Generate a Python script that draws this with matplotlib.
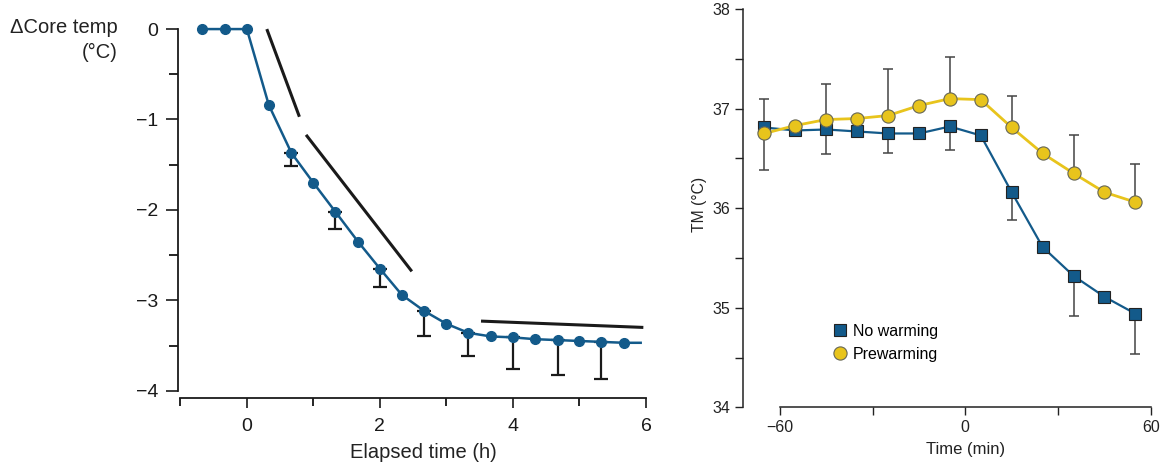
import matplotlib
matplotlib.use("Agg")
import matplotlib.pyplot as plt
from matplotlib.lines import Line2D
import numpy as np

plt.rcParams['font.family'] = ['Liberation Sans', 'DejaVu Sans']
plt.rcParams['axes.unicode_minus'] = True

# left panel: change in core temperature after induction
elapsed_h = [-0.67, -0.33, 0.0, 0.33, 0.67, 1.0, 1.33, 1.67, 2.0, 2.33, 2.67,
             3.0, 3.33, 3.67, 4.0, 4.33, 4.67, 5.0, 5.33, 5.67]
delta_core = [0.0, 0.0, 0.0, -0.84, -1.37, -1.70, -2.02, -2.35, -2.65, -2.94, -3.12,
              -3.26, -3.36, -3.40, -3.41, -3.43, -3.44, -3.45, -3.46, -3.47]
line_end_h = 5.92
line_end_val = -3.47

sd_h = [0.67, 1.33, 2.0, 2.67, 3.33, 4.0, 4.67, 5.33]
sd_val = [0.15, 0.19, 0.20, 0.27, 0.26, 0.35, 0.39, 0.41]

# the three phases of the decline (redistribution, loss, plateau)
phase_x = [(0.30, 0.79), (0.89, 2.48), (3.52, 5.96)]
phase_y = [(0.0, -0.97), (-1.17, -2.68), (-3.23, -3.30)]

# right panel: TM with / without prewarming
time_min = [-65, -55, -45, -35, -25, -15, -5, 5, 15, 25, 35, 45, 55]
no_warming = [36.81, 36.78, 36.79, 36.77, 36.75, 36.75, 36.82, 36.73,
              36.16, 35.61, 35.32, 35.11, 34.94]
prewarming = [36.75, 36.83, 36.89, 36.90, 36.93, 37.03, 37.10, 37.09,
              36.81, 36.55, 36.35, 36.16, 36.06]
err_time = [-65, -45, -25, -5, 15, 35, 55]
no_warming_sd = [0.43, 0.25, 0.20, 0.24, 0.28, 0.40, 0.40]
prewarming_sd = [0.35, 0.36, 0.47, 0.42, 0.32, 0.38, 0.38]

blue = '#135a8a'
yellow = '#e8c41c'
txt = '#222222'

fig = plt.figure(figsize=(11.65, 4.67), dpi=100)

# ---- left
ax1 = fig.add_axes([0.1525, 0.1471, 0.414, 0.810])
ax1.plot(elapsed_h + [line_end_h], delta_core + [line_end_val], color=blue, lw=1.8, zorder=3)
ax1.plot(elapsed_h, delta_core, 'o', color=blue, ms=7, zorder=4)
sd_mean = [delta_core[elapsed_h.index(h)] for h in sd_h]
ax1.errorbar(sd_h, sd_mean, yerr=[sd_val, [0] * len(sd_val)], fmt='none',
             ecolor='#1a1a1a', elinewidth=1.6, capsize=5, capthick=1.6, zorder=2)
for xs, ys in zip(phase_x, phase_y):
    ax1.plot(xs, ys, color='#1a1a1a', lw=2.2, solid_capstyle='butt')

ax1.set_xlim(-1.04, 6.21)
ax1.set_ylim(-4.084, 0.1)
ax1.spines['top'].set_visible(False)
ax1.spines['right'].set_visible(False)
ax1.spines['left'].set_bounds(-4, 0)
ax1.spines['bottom'].set_bounds(-1, 6)
for s in ('left', 'bottom'):
    ax1.spines[s].set_linewidth(1.3)
    ax1.spines[s].set_color('#1a1a1a')
ax1.set_yticks([0, -1, -2, -3, -4])
ax1.set_yticklabels(['0', '\u22121', '\u22122', '\u22123', '\u22124'])
ax1.set_yticks(np.arange(-3.5, 0, 1.0), minor=True)
ax1.set_xticks([0, 2, 4, 6])
ax1.set_xticks([-1, 1, 3, 5], minor=True)
ax1.tick_params(axis='y', which='major', length=9, width=1.2, labelsize=14, pad=5, colors='#1a1a1a')
ax1.tick_params(axis='y', which='minor', length=6.5, width=1.2)
ax1.tick_params(axis='x', which='major', length=7.5, width=1.2, labelsize=14, pad=7, colors='#1a1a1a')
ax1.tick_params(axis='x', which='minor', length=5.5, width=1.2)
ax1.set_xlabel('Elapsed time (h)', fontsize=14.5, color=txt)
ax1.xaxis.set_label_coords(0.509, -0.118)
fig.text(118 / 1165, 1 - 18 / 467, '\u0394Core temp\n(\u00b0C)', ha='right', va='top',
         multialignment='right', fontsize=14.5, color=txt, linespacing=1.4)

# ---- right
ax2 = fig.add_axes([0.6375, 0.1278, 0.3583, 0.870])
ax2.plot(time_min, no_warming, color=blue, lw=1.6, zorder=3)
ax2.plot(time_min, prewarming, color=yellow, lw=2.0, zorder=3)
nw_mean = [no_warming[time_min.index(t)] for t in err_time]
pw_mean = [prewarming[time_min.index(t)] for t in err_time]
ax2.errorbar(err_time, nw_mean, yerr=[no_warming_sd, [0] * len(err_time)], fmt='none',
             ecolor='#444444', elinewidth=1.1, capsize=3.5, capthick=1.1, zorder=2)
ax2.errorbar(err_time, pw_mean, yerr=[[0] * len(err_time), prewarming_sd], fmt='none',
             ecolor='#444444', elinewidth=1.1, capsize=3.5, capthick=1.1, zorder=2)
ax2.plot(time_min, no_warming, 's', color=blue, mec='#222222', mew=0.8, ms=8.5, zorder=4)
ax2.plot(time_min, prewarming, 'o', color=yellow, mec='#666655', mew=0.8, ms=9.5, zorder=5)

ax2.set_xlim(-72, 63)
ax2.set_ylim(34, 38.08)
ax2.spines['top'].set_visible(False)
ax2.spines['right'].set_visible(False)
ax2.spines['left'].set_bounds(34, 38)
ax2.spines['bottom'].set_bounds(-60, 60)
for s in ('left', 'bottom'):
    ax2.spines[s].set_linewidth(1.1)
    ax2.spines[s].set_color('#222222')
ax2.set_yticks([34, 35, 36, 37, 38])
ax2.set_yticks([34.5, 35.5, 36.5, 37.5], minor=True)
ax2.set_xticks([-60, 0, 60])
ax2.set_xticklabels(['\u221260', '0', '60'])
ax2.set_xticks([-30, 30], minor=True)
ax2.tick_params(axis='both', which='both', length=6, width=1.0, colors='#222222')
ax2.tick_params(axis='both', which='major', labelsize=11.5, pad=3)
ax2.set_xlabel('Time (min)', fontsize=12, color=txt)
ax2.xaxis.set_label_coords(0.535, -0.085)
ax2.set_ylabel('TM (\u00b0C)', fontsize=11.3, color=txt, labelpad=4)

handles = [
    Line2D([], [], ls='none', marker='s', color=blue, mec='#222222', mew=0.8, ms=8),
    Line2D([], [], ls='none', marker='o', color=yellow, mec='#666655', mew=0.8, ms=9.5),
]
ax2.legend(handles, ['No warming', 'Prewarming'], loc='upper left',
           bbox_to_anchor=(824 / 1165, 1 - 316 / 467), bbox_transform=fig.transFigure,
           frameon=False, fontsize=11.5, handletextpad=0.3, labelspacing=0.5,
           borderpad=0, handlelength=1.0)

fig.savefig('out.png', dpi=100)
